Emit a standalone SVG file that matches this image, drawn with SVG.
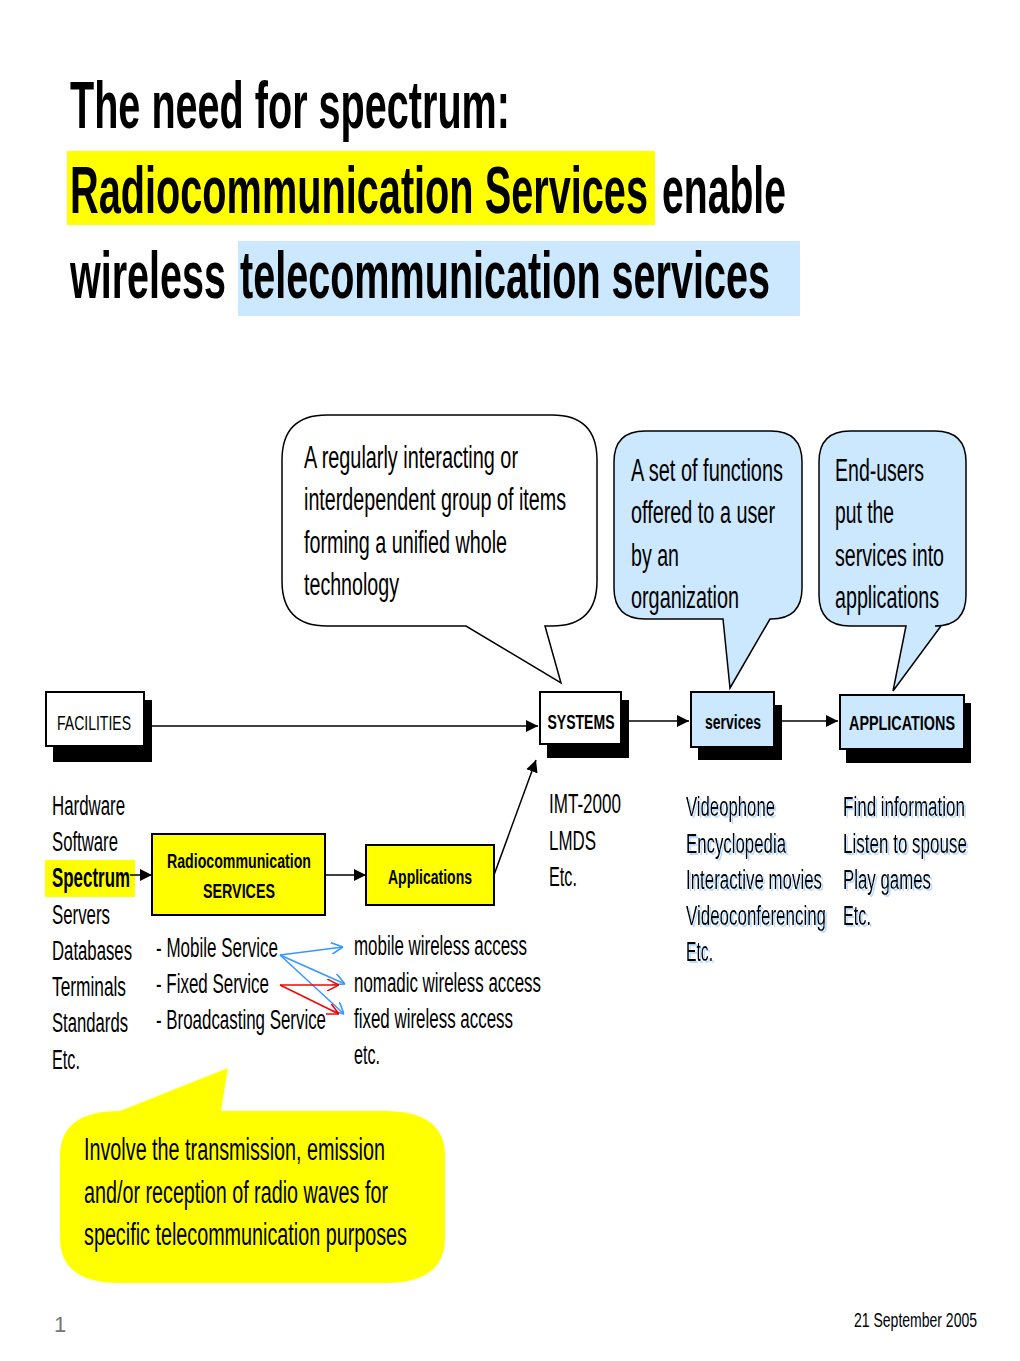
<svg xmlns="http://www.w3.org/2000/svg" width="1020" height="1361" viewBox="0 0 1020 1361">
<style>
text{font-family:"Liberation Sans Narrow","Arial Narrow","Liberation Sans",Arial,sans-serif;fill:#000}
.t{font-size:67px;font-weight:bold}
.c{font-size:31px}
.l{font-size:27px}
.b{font-weight:bold}
.box{stroke:#000;stroke-width:2}
.sh{fill:#000}
.conn{stroke:#000;stroke-width:1.5;fill:none}
.blue{stroke:#3399ff;stroke-width:1.5;fill:none}
.red{stroke:#ff0000;stroke-width:1.5;fill:none}
.glow{filter:url(#glow)}
</style>
<defs>
<marker id="ah" viewBox="0 0 10 10" refX="10" refY="5" markerWidth="12" markerHeight="12" markerUnits="userSpaceOnUse" orient="auto"><path d="M0,0 L10,5 L0,10 z" fill="#000"/></marker>
<marker id="ob" viewBox="0 0 10 10" refX="10" refY="5" markerWidth="12" markerHeight="12" markerUnits="userSpaceOnUse" orient="auto"><path d="M0,0 L10,5 L0,10" fill="none" stroke="#3399ff" stroke-width="1.3"/></marker>
<marker id="or" viewBox="0 0 10 10" refX="10" refY="5" markerWidth="12" markerHeight="12" markerUnits="userSpaceOnUse" orient="auto"><path d="M0,0 L10,5 L0,10" fill="none" stroke="#ff0000" stroke-width="1.3"/></marker>
<filter id="glow" x="-5%" y="-20%" width="110%" height="140%"><feDropShadow dx="2" dy="2" stdDeviation="0.6" flood-color="#b9dcff"/></filter>
</defs>
<rect width="1020" height="1361" fill="#fff"/>

<g id="title">
<rect x="67" y="151" width="588" height="74" fill="#ffff00"/>
<rect x="238" y="241" width="562" height="75" fill="#cce8ff"/>
<text class="t" x="70" y="128" textLength="440" lengthAdjust="spacingAndGlyphs">The need for spectrum:</text>
<text class="t" x="70" y="213" textLength="578" lengthAdjust="spacingAndGlyphs">Radiocommunication Services</text>
<text class="t" x="662" y="213" textLength="124" lengthAdjust="spacingAndGlyphs">enable</text>
<text class="t" x="70" y="298" textLength="156" lengthAdjust="spacingAndGlyphs">wireless</text>
<text class="t" x="240" y="298" textLength="530" lengthAdjust="spacingAndGlyphs">telecommunication services</text>
</g>

<g id="callout-systems">
<path d="M327,415 H552 Q597,415 597,460 V581 Q597,626 552,626 H545 L561,683 L466,626 H327 Q282,626 282,581 V460 Q282,415 327,415 Z" fill="#fff" stroke="#000" stroke-width="1.5"/>
<text class="c" x="304" y="468" textLength="214" lengthAdjust="spacingAndGlyphs">A regularly interacting or</text>
<text class="c" x="304" y="510" textLength="262" lengthAdjust="spacingAndGlyphs">interdependent group of items</text>
<text class="c" x="304" y="553" textLength="203" lengthAdjust="spacingAndGlyphs">forming a unified whole</text>
<text class="c" x="304" y="595" textLength="95" lengthAdjust="spacingAndGlyphs">technology</text>
</g>

<g id="callout-services">
<path d="M645,431 H771 Q802,431 802,462 V588 Q802,619 771,619 H770 L730,688 L723,619 H645 Q614,619 614,588 V462 Q614,431 645,431 Z" fill="#cce8ff" stroke="#000" stroke-width="1.5"/>
<text class="c" x="631" y="481" textLength="152" lengthAdjust="spacingAndGlyphs">A set of functions</text>
<text class="c" x="631" y="523" textLength="144" lengthAdjust="spacingAndGlyphs">offered to a user</text>
<text class="c" x="631" y="566" textLength="48" lengthAdjust="spacingAndGlyphs">by an</text>
<text class="c" x="631" y="608" textLength="108" lengthAdjust="spacingAndGlyphs">organization</text>
</g>

<g id="callout-applications">
<path d="M850,431 H935 Q966,431 966,462 V595 Q966,626 935,626 H941 L893,691 L906,626 H850 Q819,626 819,595 V462 Q819,431 850,431 Z" fill="#cce8ff" stroke="#000" stroke-width="1.5"/>
<text class="c" x="835" y="481" textLength="89" lengthAdjust="spacingAndGlyphs">End-users</text>
<text class="c" x="835" y="523" textLength="59" lengthAdjust="spacingAndGlyphs">put the</text>
<text class="c" x="835" y="566" textLength="109" lengthAdjust="spacingAndGlyphs">services into</text>
<text class="c" x="835" y="608" textLength="104" lengthAdjust="spacingAndGlyphs">applications</text>
</g>

<g id="callout-radio">
<path d="M120,1111 L228,1068 L221,1111 H385 Q445,1111 445,1156 V1238 Q445,1283 385,1283 H120 Q60,1283 60,1238 V1156 Q60,1111 120,1111 Z" fill="#ffff00"/>
<text class="c" x="84" y="1160" textLength="301" lengthAdjust="spacingAndGlyphs">Involve the transmission, emission</text>
<text class="c" x="84" y="1203" textLength="304" lengthAdjust="spacingAndGlyphs">and/or reception of radio waves for</text>
<text class="c" x="84" y="1245" textLength="323" lengthAdjust="spacingAndGlyphs">specific telecommunication purposes</text>
</g>

<g id="facilities">
<rect class="sh" x="53" y="700" width="99" height="62"/>
<rect class="box" x="46" y="692" width="98" height="54" fill="#fff"/>
<text x="94" y="730" font-size="20" text-anchor="middle" textLength="74" lengthAdjust="spacingAndGlyphs">FACILITIES</text>
</g>

<g id="systems">
<rect class="sh" x="547" y="700" width="82" height="58"/>
<rect class="box" x="540" y="692" width="81" height="52" fill="#fff"/>
<text class="b" x="581" y="729" font-size="20" text-anchor="middle" textLength="67" lengthAdjust="spacingAndGlyphs">SYSTEMS</text>
</g>

<g id="services">
<rect class="sh" x="698" y="705" width="84" height="55"/>
<rect class="box" x="691" y="692" width="83" height="55" fill="#cce8ff"/>
<text class="b" x="733" y="729" font-size="20" text-anchor="middle" textLength="56" lengthAdjust="spacingAndGlyphs">services</text>
</g>

<g id="applications">
<rect class="sh" x="846" y="703" width="125" height="60"/>
<rect class="box" x="840" y="695" width="124" height="54" fill="#cce8ff"/>
<text class="b" x="902" y="730" font-size="20" text-anchor="middle" textLength="106" lengthAdjust="spacingAndGlyphs">APPLICATIONS</text>
</g>

<g id="radio-services">
<rect class="box" x="152" y="834" width="173" height="81" fill="#ffff00"/>
<text class="b" x="239" y="868" font-size="21" text-anchor="middle" textLength="144" lengthAdjust="spacingAndGlyphs">Radiocommunication</text>
<text class="b" x="239" y="898" font-size="21" text-anchor="middle" textLength="72" lengthAdjust="spacingAndGlyphs">SERVICES</text>
</g>

<g id="applications-box">
<rect class="box" x="366" y="845" width="128" height="60" fill="#ffff00"/>
<text class="b" x="430" y="884" font-size="21" text-anchor="middle" textLength="84" lengthAdjust="spacingAndGlyphs">Applications</text>
</g>

<g id="facilities-list">
<rect x="45" y="860" width="90" height="37" fill="#ffff00"/>
<text class="l" x="52" y="815" textLength="73" lengthAdjust="spacingAndGlyphs">Hardware</text>
<text class="l" x="52" y="851" textLength="66" lengthAdjust="spacingAndGlyphs">Software</text>
<text class="l b" x="52" y="887" textLength="78" lengthAdjust="spacingAndGlyphs">Spectrum</text>
<text class="l" x="52" y="924" textLength="58" lengthAdjust="spacingAndGlyphs">Servers</text>
<text class="l" x="52" y="960" textLength="80" lengthAdjust="spacingAndGlyphs">Databases</text>
<text class="l" x="52" y="996" textLength="74" lengthAdjust="spacingAndGlyphs">Terminals</text>
<text class="l" x="52" y="1032" textLength="76" lengthAdjust="spacingAndGlyphs">Standards</text>
<text class="l" x="52" y="1069" textLength="28" lengthAdjust="spacingAndGlyphs">Etc.</text>
</g>

<g id="radio-list">
<text class="l" x="156" y="957" textLength="122" lengthAdjust="spacingAndGlyphs">- Mobile Service</text>
<text class="l" x="156" y="993" textLength="113" lengthAdjust="spacingAndGlyphs">- Fixed Service</text>
<text class="l" x="156" y="1029" textLength="170" lengthAdjust="spacingAndGlyphs">- Broadcasting Service</text>
</g>

<g id="access-list">
<text class="l" x="354" y="955" textLength="173" lengthAdjust="spacingAndGlyphs">mobile wireless access</text>
<text class="l" x="354" y="992" textLength="187" lengthAdjust="spacingAndGlyphs">nomadic wireless access</text>
<text class="l" x="354" y="1028" textLength="159" lengthAdjust="spacingAndGlyphs">fixed wireless access</text>
<text class="l" x="354" y="1064" textLength="26" lengthAdjust="spacingAndGlyphs">etc.</text>
</g>

<g id="systems-list">
<text class="l" x="549" y="813" textLength="72" lengthAdjust="spacingAndGlyphs">IMT-2000</text>
<text class="l" x="549" y="850" textLength="47" lengthAdjust="spacingAndGlyphs">LMDS</text>
<text class="l" x="549" y="886" textLength="28" lengthAdjust="spacingAndGlyphs">Etc.</text>
</g>

<g id="services-list" class="glow">
<text class="l" x="686" y="816" textLength="89" lengthAdjust="spacingAndGlyphs">Videophone</text>
<text class="l" x="686" y="853" textLength="100" lengthAdjust="spacingAndGlyphs">Encyclopedia</text>
<text class="l" x="686" y="889" textLength="136" lengthAdjust="spacingAndGlyphs">Interactive movies</text>
<text class="l" x="686" y="925" textLength="140" lengthAdjust="spacingAndGlyphs">Videoconferencing</text>
<text class="l" x="686" y="961" textLength="27" lengthAdjust="spacingAndGlyphs">Etc.</text>
</g>

<g id="applications-list" class="glow">
<text class="l" x="843" y="816" textLength="122" lengthAdjust="spacingAndGlyphs">Find information</text>
<text class="l" x="843" y="853" textLength="124" lengthAdjust="spacingAndGlyphs">Listen to spouse</text>
<text class="l" x="843" y="889" textLength="88" lengthAdjust="spacingAndGlyphs">Play games</text>
<text class="l" x="843" y="925" textLength="28" lengthAdjust="spacingAndGlyphs">Etc.</text>
</g>

<g id="connectors">
<line class="conn" x1="152" y1="726" x2="538" y2="726" marker-end="url(#ah)"/>
<line class="conn" x1="629" y1="721" x2="689" y2="721" marker-end="url(#ah)"/>
<line class="conn" x1="782" y1="721" x2="838" y2="721" marker-end="url(#ah)"/>
<line class="conn" x1="130" y1="875" x2="152" y2="875" marker-end="url(#ah)"/>
<line class="conn" x1="325" y1="875" x2="366" y2="875" marker-end="url(#ah)"/>
<line class="conn" x1="494" y1="875" x2="536" y2="760" marker-end="url(#ah)"/>
<line class="blue" x1="280" y1="955" x2="343" y2="947" marker-end="url(#ob)"/>
<line class="blue" x1="280" y1="955" x2="345" y2="984" marker-end="url(#ob)"/>
<line class="blue" x1="280" y1="955" x2="344" y2="1014" marker-end="url(#ob)"/>
<line class="red" x1="280" y1="985" x2="339" y2="985" marker-end="url(#or)"/>
<line class="red" x1="280" y1="985" x2="339" y2="1014" marker-end="url(#or)"/>
</g>

<g id="footer">
<text x="54" y="1332" font-size="22" fill="#777" style="fill:#777">1</text>
<text x="977" y="1327" font-size="21" text-anchor="end" textLength="123" lengthAdjust="spacingAndGlyphs">21 September 2005</text>
</g>
</svg>
